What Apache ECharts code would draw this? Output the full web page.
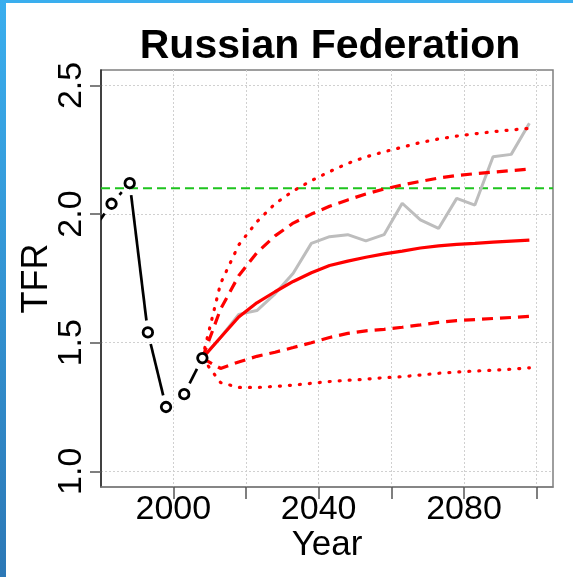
<!DOCTYPE html>
<html>
<head>
<meta charset="utf-8">
<script src="https://cdn.jsdelivr.net/npm/echarts@6/dist/echarts.min.js"></script>
<style>
html,body{margin:0;padding:0;background:#fff;}
#chart{position:absolute;left:0;top:0;width:573px;height:577px;}
#topbar{position:absolute;left:0;top:0;width:573px;height:3px;background:#3aaeee;}
#leftbar{position:absolute;left:0;top:0;width:6px;height:577px;background:linear-gradient(#3aaeee,#2c78b6);}
</style>
</head>
<body>
<div id="chart"></div>
<div id="topbar"></div>
<div id="leftbar"></div>
<script>
// Observed TFR (five-year periods)
var observedYears = [1978, 1983, 1988, 1993, 1998, 2003, 2008];
var observedTFR   = [1.94, 2.04, 2.12, 1.54, 1.25, 1.30, 1.44];

// Projections
var projYears = [2008, 2013, 2018, 2023, 2028, 2033, 2038, 2043, 2048, 2053, 2058, 2063, 2068, 2073, 2078, 2083, 2088, 2093, 2098];
var median  = [1.44, 1.52, 1.60, 1.655, 1.698, 1.738, 1.772, 1.80, 1.817, 1.832, 1.845, 1.856, 1.868, 1.876, 1.882, 1.886, 1.891, 1.895, 1.899];
var upper80 = [1.44, 1.63, 1.76, 1.85, 1.915, 1.965, 2.00, 2.03, 2.055, 2.078, 2.097, 2.113, 2.127, 2.14, 2.15, 2.157, 2.163, 2.169, 2.175];
var lower80 = [1.44, 1.40, 1.425, 1.447, 1.463, 1.481, 1.50, 1.52, 1.536, 1.546, 1.552, 1.56, 1.569, 1.579, 1.586, 1.59, 1.594, 1.598, 1.602];
var upper95 = [1.44, 1.73, 1.88, 1.97, 2.04, 2.09, 2.13, 2.165, 2.197, 2.222, 2.242, 2.26, 2.278, 2.292, 2.303, 2.312, 2.32, 2.327, 2.333];
var lower95 = [1.44, 1.345, 1.326, 1.326, 1.33, 1.335, 1.342, 1.349, 1.354, 1.358, 1.364, 1.368, 1.374, 1.381, 1.386, 1.39, 1.393, 1.397, 1.402];
var trajectory = [1.44, 1.52, 1.61, 1.625, 1.69, 1.77, 1.886, 1.912, 1.92, 1.896, 1.92, 2.042, 1.977, 1.944, 2.061, 2.035, 2.223, 2.232, 2.353];

var replacementTFR = 2.1;

// Axes
var xTicks  = [2000, 2020, 2040, 2060, 2080, 2100];
var xLabels = [2000, 2040, 2080];
var yTicks  = [1.0, 1.5, 2.0, 2.5];
var xRange = [1980.1, 2104.5];
var yRange = [0.939, 2.56];

function pairs(xs, ys){ return xs.map(function(x,i){ return [x, ys[i]]; }); }

var FONT = '"Liberation Sans", Arial, Helvetica, sans-serif';
var chart = echarts.init(document.getElementById('chart'), null, {renderer:'canvas'});

var segData = [];
for (var i = 0; i < observedYears.length - 1; i++) {
  segData.push([observedYears[i], observedTFR[i], observedYears[i+1], observedTFR[i+1]]);
}

var GAP = 12;
var DOTS = {color: '#ff0000', width: 3.2, type: [1, 9], cap: 'round'};
var DASH = {color: '#ff0000', width: 3.2, type: [11, 7]};

chart.setOption({
  animation: false,
  backgroundColor: '#fff',
  title: {
    text: 'Russian Federation',
    left: 325, top: 21, textAlign: 'center',
    textStyle: {fontFamily: FONT, fontWeight: 'bold', fontSize: 41, color: '#000'}
  },
  grid: {
    left: 101, top: 70, width: 452, height: 417,
    show: true, borderColor: '#7f7f7f', borderWidth: 1.5, containLabel: false
  },
  xAxis: {
    type: 'value', min: xRange[0], max: xRange[1],
    name: 'Year', nameLocation: 'middle', nameGap: 41, nameMoveOverlap: false,
    nameTextStyle: {fontFamily: FONT, fontSize: 35, color: '#000'},
    axisLine: {show: true, onZero: false, lineStyle: {color: '#7f7f7f', width: 1.5}},
    axisTick: {show: true, length: 12, customValues: xTicks, lineStyle: {color: '#555', width: 1.5}},
    axisLabel: {customValues: xLabels, margin: 6, fontFamily: FONT, fontSize: 34, color: '#000',
      formatter: function(v){ return String(v); }},
    splitLine: {show: true, lineStyle: {color: '#d0d0d0', type: [2, 2], width: 1}}
  },
  yAxis: {
    type: 'value', min: yRange[0], max: yRange[1],
    name: 'TFR', nameLocation: 'middle', nameGap: 46, nameRotate: 90, nameMoveOverlap: false,
    nameTextStyle: {fontFamily: FONT, fontSize: 36, color: '#000'},
    axisLine: {show: true, onZero: false, lineStyle: {color: '#222', width: 1.5}},
    axisTick: {show: true, length: 11, customValues: yTicks, lineStyle: {color: '#555', width: 1.5}},
    axisLabel: {customValues: yTicks, rotate: 90, margin: 12, fontFamily: FONT, fontSize: 34, color: '#000',
      formatter: function(v){ return v.toFixed(1); }},
    splitLine: {show: true, lineStyle: {color: '#d0d0d0', type: [2, 2], width: 1}}
  },
  series: [
    {
      type: 'line', data: pairs(xRange, [replacementTFR, replacementTFR]),
      symbol: 'none', lineStyle: {color: '#1ec41e', width: 2, type: [9, 5]}, z: 2
    },
    {
      type: 'line', data: pairs(projYears, trajectory),
      symbol: 'none', lineStyle: {color: '#bdbdbd', width: 3}, z: 3
    },
    { type: 'line', data: pairs(projYears, upper95), symbol: 'none', lineStyle: DOTS, z: 4 },
    { type: 'line', data: pairs(projYears, lower95), symbol: 'none', lineStyle: DOTS, z: 4 },
    { type: 'line', data: pairs(projYears, upper80), symbol: 'none', lineStyle: DASH, z: 4 },
    { type: 'line', data: pairs(projYears, lower80), symbol: 'none', lineStyle: DASH, z: 4 },
    {
      type: 'line', data: pairs(projYears, median),
      symbol: 'none', lineStyle: {color: '#ff0000', width: 3.2}, z: 5
    },
    {
      type: 'custom', coordinateSystem: 'cartesian2d', clip: true, z: 6,
      data: segData,
      encode: {x: [0, 2], y: [1, 3]},
      renderItem: function(params, api){
        var p0 = api.coord([api.value(0), api.value(1)]);
        var p1 = api.coord([api.value(2), api.value(3)]);
        var dx = p1[0]-p0[0], dy = p1[1]-p0[1];
        var len = Math.sqrt(dx*dx+dy*dy);
        if (len <= 2*GAP) return null;
        var ux = dx/len, uy = dy/len;
        return {
          type: 'line',
          shape: {x1: p0[0]+ux*GAP, y1: p0[1]+uy*GAP, x2: p1[0]-ux*GAP, y2: p1[1]-uy*GAP},
          style: {stroke: '#000', lineWidth: 2.7}
        };
      }
    },
    {
      type: 'scatter', data: pairs(observedYears, observedTFR), clip: true, z: 7,
      symbol: 'circle', symbolSize: 9.5,
      itemStyle: {color: '#fff', borderColor: '#000', borderWidth: 2.8, opacity: 1}
    }
  ]
});
</script>
</body>
</html>
